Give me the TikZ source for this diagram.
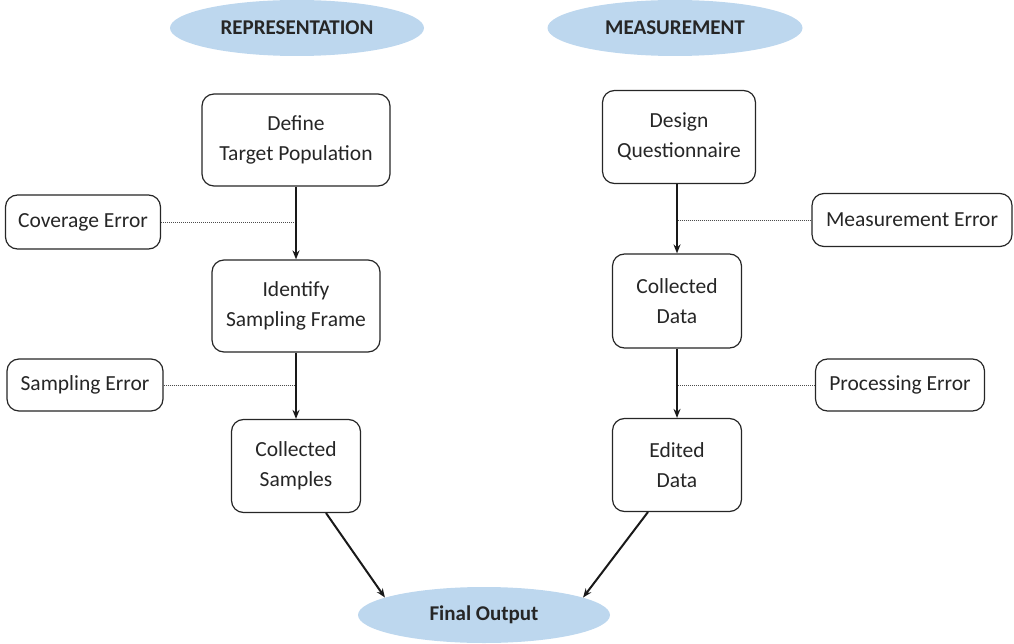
\documentclass[tikz,border=0pt]{standalone}
\usepackage{fontspec}
\setmainfont{Carlito}
\usetikzlibrary{shapes.geometric,arrows.meta}
\definecolor{ellblue}{HTML}{BDD7EE}
\begin{document}
\begin{tikzpicture}[x=1pt,y=-1pt,
  every node/.style={font=\fontsize{21.5}{30}\selectfont, align=center, inner sep=0pt, text=black!85},
  boxnode/.style={draw=black!85, line width=1.2pt, rounded corners=12pt, fill=white},
  ellnode/.style={ellipse, fill=ellblue, font=\fontsize{21}{30}\selectfont\bfseries},
  flow/.style={line width=2pt, black!90, -{Stealth[length=9pt,width=7pt]}},
  dotline/.style={line width=0.9pt, black!70, dash pattern=on 1pt off 1pt}]
\useasboundingbox (0,0) rectangle (1014,644);
\node[ellnode, minimum width=254pt, minimum height=56pt] (rep) at (297,28) {REPRESENTATION};
\node[ellnode, minimum width=255pt, minimum height=56pt] (mea) at (675,28) {MEASUREMENT};
\node[ellnode, minimum width=252pt, minimum height=56pt] (fin) at (484,615) {Final Output};

\node[boxnode, minimum width=188pt, minimum height=92pt] (def) at (296,140) {Define\\Target Population};
\node[boxnode, minimum width=168pt, minimum height=92pt] (ide) at (296,306) {Identify\\Sampling Frame};
\node[boxnode, minimum width=129pt, minimum height=93pt] (cs) at (296,466) {Collected\\Samples};

\node[boxnode, minimum width=153pt, minimum height=93pt] (des) at (679,137) {Design\\Questionnaire};
\node[boxnode, minimum width=129pt, minimum height=94pt] (cd) at (677,301) {Collected\\Data};
\node[boxnode, minimum width=129pt, minimum height=93pt] (ed) at (677,465) {Edited\\Data};

\node[boxnode, minimum width=155pt, minimum height=54pt] (cov) at (83,222) {Coverage Error};
\node[boxnode, minimum width=156pt, minimum height=52pt] (sam) at (85,385) {Sampling Error};
\node[boxnode, minimum width=200pt, minimum height=53pt] (mer) at (912,220) {Measurement Error};
\node[boxnode, minimum width=169pt, minimum height=52pt] (per) at (900,385) {Processing Error};

\draw[dotline] (cov.east) -- (cov.east -| def.south);
\draw[dotline] (sam.east) -- (sam.east -| ide.south);
\draw[dotline] (mer.west) -- (mer.west -| cd.north);
\draw[dotline] (per.west) -- (per.west -| cd.south);

\draw[flow] (def.south) -- (ide.north);
\draw[flow] (ide.south) -- (cs.north);
\draw[flow] (des.south -| cd.north) -- (cd.north);
\draw[flow] (cd.south) -- (ed.north);

\coordinate (csout) at (326,513);
\coordinate (edout) at (648,512);
\draw[flow] (csout) -- (fin.170);
\draw[flow] (edout) -- (fin.10);
\end{tikzpicture}
\end{document}
